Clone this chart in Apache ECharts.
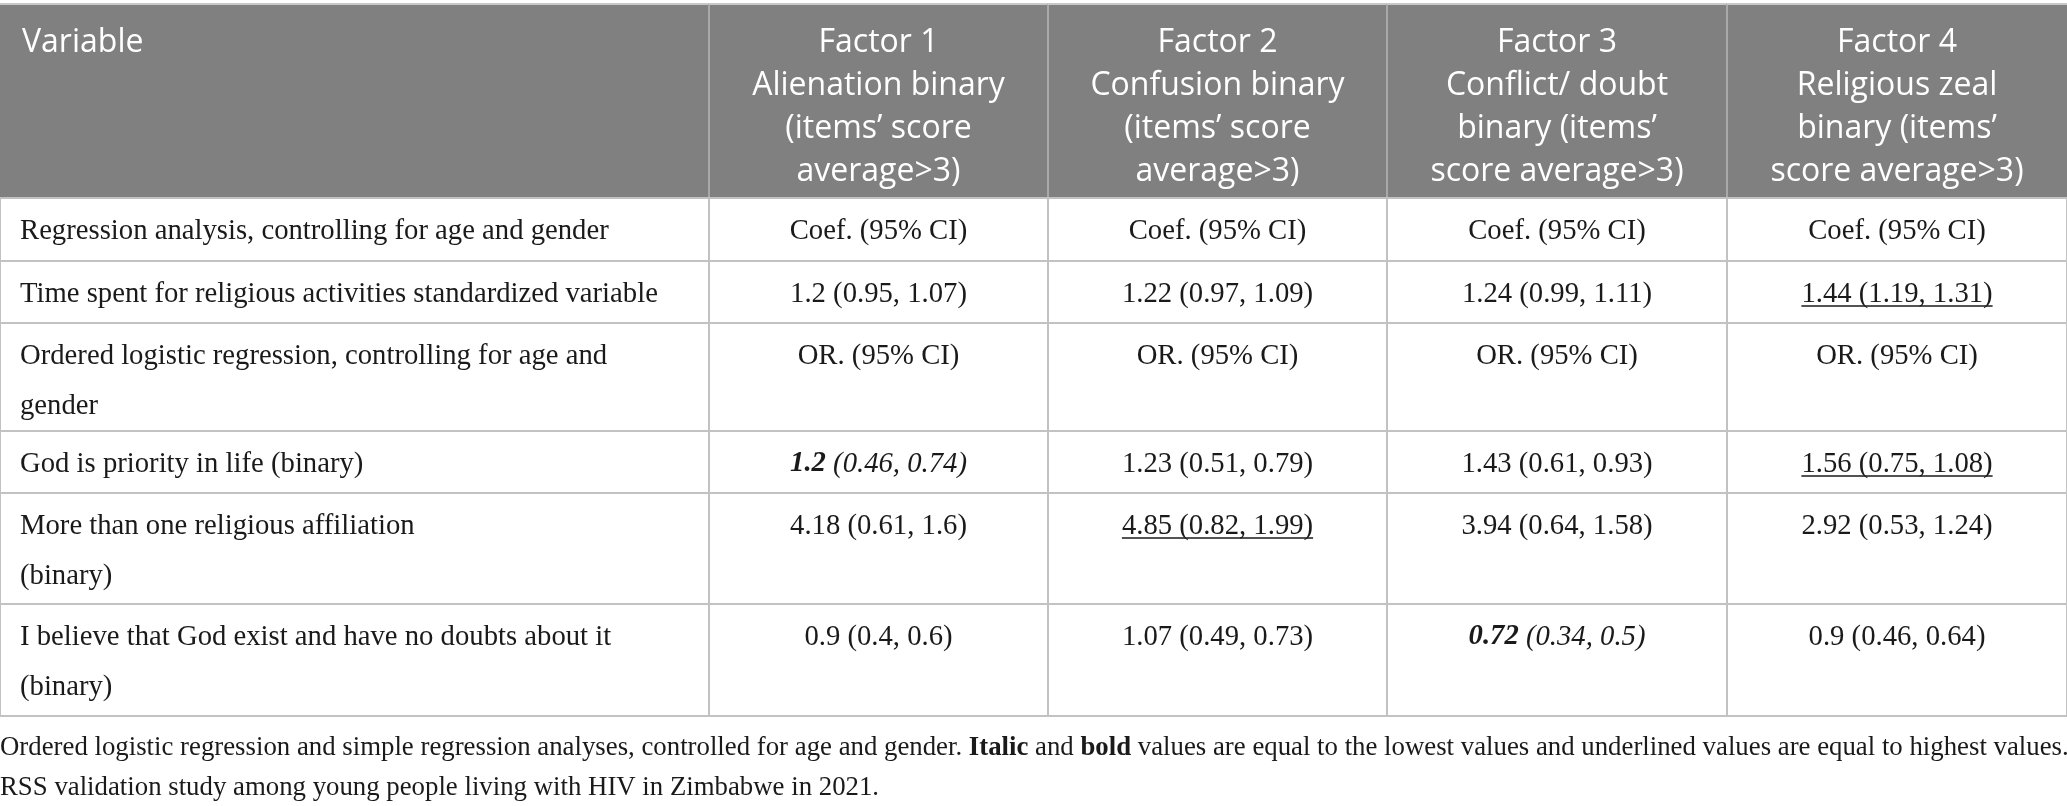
<!DOCTYPE html>
<html>
<head>
<meta charset="utf-8">
<script src="https://cdn.jsdelivr.net/npm/echarts@6/dist/echarts.min.js"></script>
<style>
  html, body { margin: 0; padding: 0; background: #fff; }
  #table { width: 2067px; height: 806px; }
</style>
</head>
<body>
<div id="table"></div>
<script>
// table content
var headers = [
    'Variable',
    'Factor 1\nAlienation binary\n(items’ score\naverage>3)',
    'Factor 2\nConfusion binary\n(items’ score\naverage>3)',
    'Factor 3\nConflict/ doubt\nbinary (items’\nscore average>3)',
    'Factor 4\nReligious zeal\nbinary (items’\nscore average>3)'
];
var variables = [
    'Regression analysis, controlling for age and gender',
    'Time spent for religious activities standardized variable',
    'Ordered logistic regression, controlling for age and\ngender',
    'God is priority in life (binary)',
    'More than one religious affiliation\n(binary)',
    'I believe that God exist and have no doubts about it\n(binary)'
];
var factor1 = ['Coef. (95% CI)', '1.2 (0.95, 1.07)', 'OR. (95% CI)', '1.2 (0.46, 0.74)', '4.18 (0.61, 1.6)', '0.9 (0.4, 0.6)'];
var factor2 = ['Coef. (95% CI)', '1.22 (0.97, 1.09)', 'OR. (95% CI)', '1.23 (0.51, 0.79)', '4.85 (0.82, 1.99)', '1.07 (0.49, 0.73)'];
var factor3 = ['Coef. (95% CI)', '1.24 (0.99, 1.11)', 'OR. (95% CI)', '1.43 (0.61, 0.93)', '3.94 (0.64, 1.58)', '0.72 (0.34, 0.5)'];
var factor4 = ['Coef. (95% CI)', '1.44 (1.19, 1.31)', 'OR. (95% CI)', '1.56 (0.75, 1.08)', '2.92 (0.53, 1.24)', '0.9 (0.46, 0.64)'];
// [factor index, row index]
var lowestCells = [[0, 3], [2, 5]];
var highestCells = [[3, 1], [3, 3], [1, 4]];
var footnote = [
    'Ordered logistic regression and simple regression analyses, controlled for age and gender. ',
    'Italic', ' and ', 'bold',
    ' values are equal to the lowest values and underlined values are equal to highest values.'
];
var footnote2 = 'RSS validation study among young people living with HIV in Zimbabwe in 2021.';

// layout
var colEdges = [0, 709, 1048, 1387, 1727, 2067];
var headerTop = 4;
var rowEdges = [198, 261, 323, 431, 493, 604, 716];
var serif = '"Liberation Serif", "DejaVu Serif", serif';
var sans = '"Open Sans", "Noto Sans", sans-serif';
var bodySize = 28.7;
var headSize = 32;
var footSize = 26.8;

var factors = [factor1, factor2, factor3, factor4];

function inList(list, f, r) {
    return list.some(function (p) { return p[0] === f && p[1] === r; });
}

var cells = [];
variables.forEach(function (v, r) {
    cells.push({ col: 0, row: r, text: v, style: 'plain' });
    factors.forEach(function (fac, f) {
        var s = 'plain';
        if (inList(lowestCells, f, r)) s = 'low';
        else if (inList(highestCells, f, r)) s = 'high';
        cells.push({ col: f + 1, row: r, text: fac[r], style: s });
    });
});

var measureCtx = document.createElement('canvas').getContext('2d');
function textWidth(t, font) {
    measureCtx.font = font;
    return measureCtx.measureText(t).width;
}

var myChart = echarts.init(document.getElementById('table'));

function renderHeader(params, api) {
    var c = api.value(0);
    var p0 = api.coord([colEdges[c], headerTop]);
    var p1 = api.coord([colEdges[c + 1], rowEdges[0]]);
    var children = [{
        type: 'rect',
        shape: { x: p0[0], y: p0[1], width: p1[0] - p0[0], height: p1[1] - p0[1] },
        style: { fill: '#808080' }
    }, {
        type: 'text',
        style: {
            text: headers[c],
            x: c === 0 ? p0[0] + 22 : (p0[0] + p1[0]) / 2,
            y: p0[1] + 17,
            align: c === 0 ? 'left' : 'center',
            verticalAlign: 'top',
            lineHeight: 43,
            fill: '#ffffff',
            fontSize: headSize,
            fontFamily: sans
        }
    }];
    if (c > 0) {
        children.push({
            type: 'line',
            shape: { x1: p0[0], y1: p0[1], x2: p0[0], y2: p1[1] },
            style: { stroke: '#a9a9a9', lineWidth: 2 }
        });
    }
    children.push({
        type: 'line',
        shape: { x1: p0[0], y1: p0[1], x2: p1[0], y2: p0[1] },
        style: { stroke: '#c8c8c8', lineWidth: 2 }
    });
    return { type: 'group', children: children };
}

function renderCell(params, api) {
    var cell = cells[params.dataIndex];
    var p0 = api.coord([colEdges[cell.col], rowEdges[cell.row]]);
    var p1 = api.coord([colEdges[cell.col + 1], rowEdges[cell.row + 1]]);
    var cx = cell.col === 0 ? p0[0] + 20 : (p0[0] + p1[0]) / 2;
    var ty = p0[1] + 8;
    var txt = cell.text;
    var rich = {
        bi: { fontStyle: 'italic', fontWeight: 'bold', fontSize: bodySize, fontFamily: serif, fill: '#1a1a1a' },
        i: { fontStyle: 'italic', fontSize: bodySize, fontFamily: serif, fill: '#1a1a1a' }
    };
    if (cell.style === 'low') {
        var k = txt.indexOf(' ');
        txt = '{bi|' + txt.slice(0, k) + '}{i|' + txt.slice(k) + '}';
    }
    var children = [{
        type: 'rect',
        shape: { x: p0[0], y: p0[1], width: p1[0] - p0[0], height: p1[1] - p0[1] },
        style: { fill: '#ffffff', stroke: '#c2c2c2', lineWidth: 2 }
    }, {
        type: 'text',
        style: {
            text: txt,
            rich: rich,
            x: cx,
            y: ty,
            align: cell.col === 0 ? 'left' : 'center',
            verticalAlign: 'top',
            lineHeight: 50,
            fill: '#1a1a1a',
            fontSize: bodySize,
            fontFamily: serif
        }
    }];
    if (cell.style === 'high') {
        var w = textWidth(cell.text, bodySize + 'px ' + serif);
        children.push({
            type: 'line',
            shape: { x1: cx - w / 2, y1: ty + 37, x2: cx + w / 2, y2: ty + 37 },
            style: { stroke: '#1a1a1a', lineWidth: 1.5 }
        });
    }
    return { type: 'group', children: children };
}

var option = {
    backgroundColor: '#ffffff',
    animation: false,
    grid: { left: 0, right: 0, top: 0, bottom: 0 },
    xAxis: { type: 'value', min: 0, max: 2067, show: false },
    yAxis: { type: 'value', min: 0, max: 806, inverse: true, show: false },
    graphic: [{
        type: 'text',
        left: 0,
        top: 728,
        style: {
            text: '{n|' + footnote[0] + '}{b|' + footnote[1] + '}{n|' + footnote[2] + '}{b|' + footnote[3] + '}{n|' + footnote[4] + '}\n{n|' + footnote2 + '}',
            lineHeight: 40,
            rich: {
                n: { fontSize: footSize, fontFamily: serif, fill: '#1a1a1a', lineHeight: 40 },
                b: { fontSize: footSize, fontFamily: serif, fontWeight: 'bold', fill: '#1a1a1a', lineHeight: 40 }
            }
        }
    }],
    series: [{
        type: 'custom',
        name: 'header',
        renderItem: renderHeader,
        data: headers.map(function (h, i) { return [i, 0]; })
    }, {
        type: 'custom',
        name: 'body',
        renderItem: renderCell,
        data: cells.map(function (c) { return [c.col, c.row]; })
    }]
};
myChart.setOption(option);
window.addEventListener('resize', function () {
    myChart.resize();
});
</script>
</body>
</html>
